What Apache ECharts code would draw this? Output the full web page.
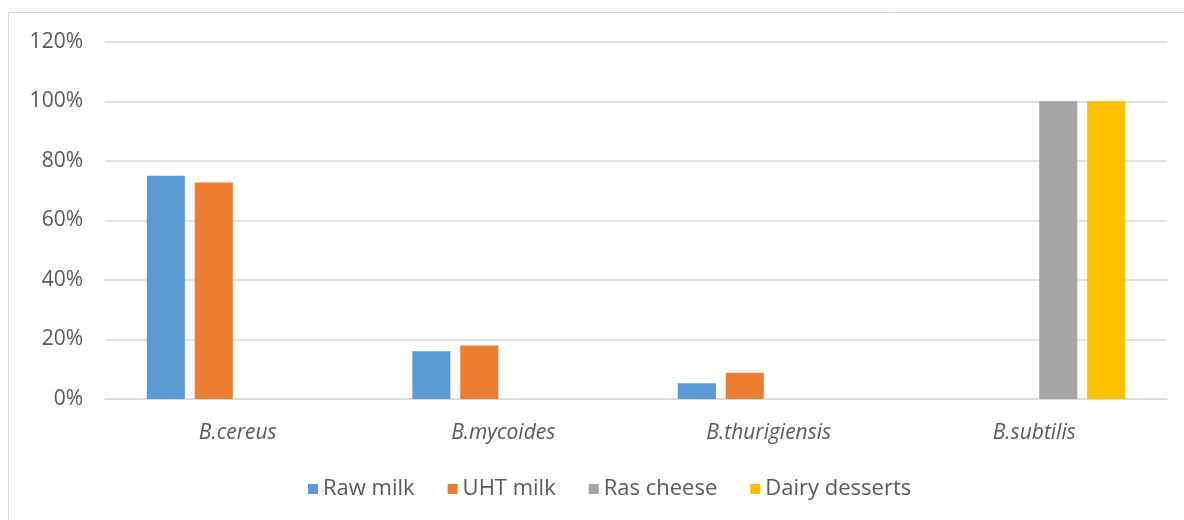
<!DOCTYPE html>
<html>
<head>
<meta charset="utf-8">
<script src="https://cdn.jsdelivr.net/npm/echarts@6/dist/echarts.min.js"></script>
<style>html,body{margin:0;padding:0;background:#fff}#c{width:1184px;height:520px}</style>
</head>
<body>
<div id="c"></div>
<script>
const categories = ['B.cereus', 'B.mycoides', 'B.thurigiensis', 'B.subtilis'];
const seriesNames = ['Raw milk', 'UHT milk', 'Ras cheese', 'Dairy desserts'];
const rawMilk = [75, 16, 5.3, null];
const uhtMilk = [72.7, 18, 8.8, null];
const rasCheese = [null, null, null, 100];
const dairyDesserts = [null, null, null, 100];
const yTicks = [0, 20, 40, 60, 80, 100, 120];
const colors = ['#5b9bd5', '#ed7d31', '#a5a5a5', '#ffc000'];

const values = [rawMilk, uhtMilk, rasCheese, dairyDesserts];
const FONT = 'Open Sans';
const chart = echarts.init(document.getElementById('c'));
chart.setOption({
  animation: false,
  color: colors,
  graphic: [
    { type: 'line', shape: { x1: 8.5, y1: 12.5, x2: 1184, y2: 12.5 }, style: { stroke: '#d9d9d9', lineWidth: 1 } },
    { type: 'line', shape: { x1: 8.5, y1: 12.5, x2: 8.5, y2: 520 }, style: { stroke: '#d9d9d9', lineWidth: 1 } }
  ],
  grid: { left: 105, right: 17, top: 41.7, bottom: 121 },
  legend: {
    data: seriesNames,
    top: 473,
    left: 303,
    itemWidth: 10, itemHeight: 10,
    itemGap: 33,
    icon: 'rect',
    textStyle: { fontFamily: FONT, fontSize: 22, color: '#595959' }
  },
  xAxis: {
    type: 'category',
    data: categories,
    axisLine: { lineStyle: { color: '#d9d9d9', width: 1.5 } },
    axisTick: { show: false },
    axisLabel: { fontFamily: FONT, fontSize: 21, fontStyle: 'italic', color: '#595959', margin: 24 }
  },
  yAxis: {
    type: 'value',
    min: yTicks[0], max: yTicks[yTicks.length - 1], interval: 20,
    axisLine: { show: false },
    axisTick: { show: false },
    splitLine: { lineStyle: { color: '#d9d9d9', width: 1.5 } },
    axisLabel: { fontFamily: FONT, fontSize: 21, color: '#595959', margin: 22, formatter: v => v + '%' }
  },
  series: seriesNames.map((n, i) => ({
    name: n,
    type: 'bar',
    data: values[i],
    barGap: '26%',
    barCategoryGap: '31.5%',
    itemStyle: { color: colors[i] }
  }))
});
</script>
</body>
</html>
